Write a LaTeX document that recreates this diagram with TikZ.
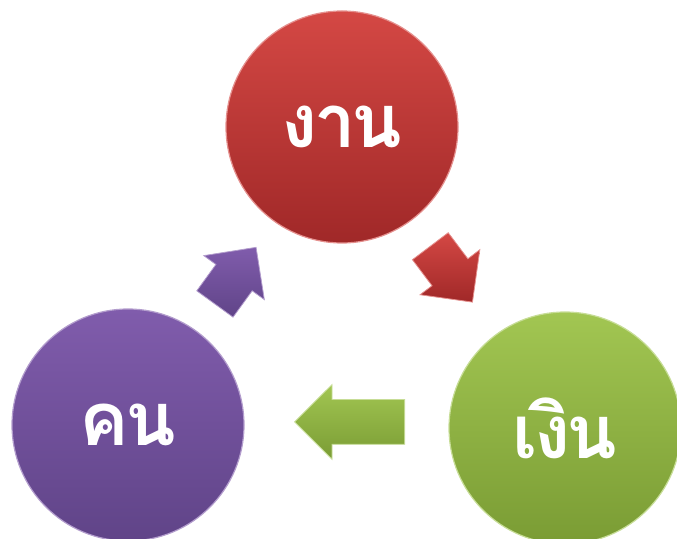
\documentclass[tikz,border=0pt]{standalone}
\usepackage{fontspec}
\newfontfamily\thaifont[Script=Thai,LetterSpace=-5]{Loma}
\usetikzlibrary{shapes.arrows,calc}

\definecolor{gaanTop}{RGB}{212,72,68}
\definecolor{gaanBot}{RGB}{160,40,40}
\definecolor{khonTop}{RGB}{128,92,172}
\definecolor{khonBot}{RGB}{96,68,136}
\definecolor{ngoenTop}{RGB}{162,198,82}
\definecolor{ngoenBot}{RGB}{122,156,52}

\begin{document}
\begin{tikzpicture}[x=1pt,y=1pt,
  ball/.style={circle, minimum size=232pt, inner sep=0pt, text=white,
    font=\thaifont\bfseries\fontsize{74}{78}\selectfont},
  blockarrow/.style={single arrow, anchor=tail, inner xsep=0pt, inner ysep=22pt, minimum width=0pt,
    single arrow head extend=15pt, draw=#1!60!white, line width=0.8pt}
]
\useasboundingbox (0,0) rectangle (677,538);
\clip (0,0) rectangle (677,538);

\node[ball, top color=gaanTop, bottom color=gaanBot, draw=gaanTop!60!white, line width=1.2pt] (gaan) at (342,411) {งาน};
\node[ball, top color=khonTop, bottom color=khonBot, draw=khonTop!60!white, line width=1.2pt] (khon) at (128,113) {คน};
\node[ball, top color=ngoenTop, bottom color=ngoenBot, draw=ngoenTop!60!white, line width=1.2pt] (ngoen) at (565,110) {เงิน};

\node[blockarrow=khonTop, top color=khonTop, bottom color=khonBot, minimum height=70pt, rotate=54] (khon2gaan) at ($(khon)!0.405!(gaan)$) {};
\node[blockarrow=gaanTop, top color=gaanTop, bottom color=gaanBot, minimum height=70pt, rotate=-53] (gaan2ngoen) at ($(gaan)!0.395!(ngoen)$) {};
\node[blockarrow=ngoenTop, top color=ngoenTop, bottom color=ngoenBot, minimum height=110pt, rotate=180] (ngoen2khon) at ($(ngoen)!0.366!(khon)+(0,5)$) {};
\end{tikzpicture}
\end{document}
